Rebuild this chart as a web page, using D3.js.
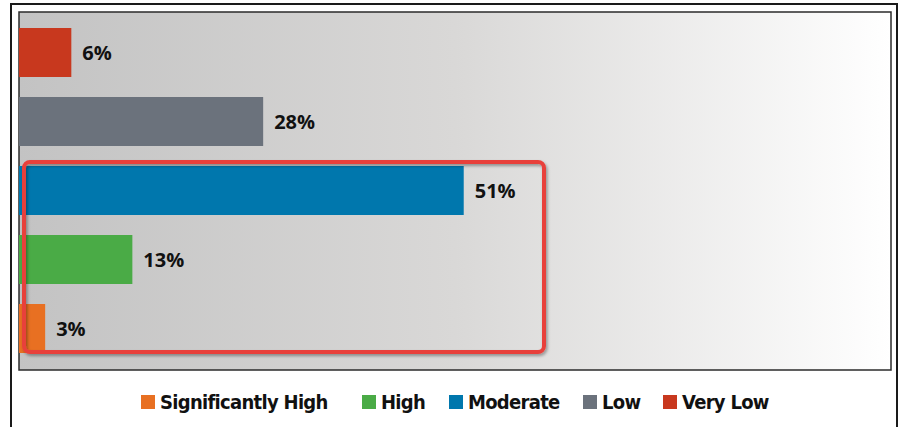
<!DOCTYPE html>
<html>
<head>
<meta charset="utf-8">
<script src="https://cdn.jsdelivr.net/npm/d3@7"></script>
<style>
  body { margin: 0; background: #fff; }
  svg { display: block; }
</style>
</head>
<body>
<div id="chart"></div>
<script>
// data, top to bottom as drawn
const categories = ["Very Low", "Low", "Moderate", "High", "Significantly High"];
const values = [6, 28, 51, 13, 3];
const colors = ["#c8381e", "#6b727c", "#0077ad", "#4aab46", "#e87022"];
// legend order
const legendOrder = ["Significantly High", "High", "Moderate", "Low", "Very Low"];
// highlighted group
const highlighted = ["Moderate", "High", "Significantly High"];

const width = 901, height = 427;
const plot = { left: 19, top: 12, right: 891, bottom: 370 };

const svg = d3.select("#chart").append("svg")
  .attr("width", width)
  .attr("height", height);

const defs = svg.append("defs");
const grad = defs.append("linearGradient")
  .attr("id", "bg")
  .attr("x1", "0%").attr("x2", "100%").attr("y1", "0%").attr("y2", "0%");
grad.append("stop").attr("offset", "0%").attr("stop-color", "#c3c3c3");
grad.append("stop").attr("offset", "50%").attr("stop-color", "#d9d8d7");
grad.append("stop").attr("offset", "100%").attr("stop-color", "#ffffff");

const shadow = defs.append("filter").attr("id", "shadow")
  .attr("x", "-5%").attr("y", "-5%").attr("width", "110%").attr("height", "115%");
shadow.append("feDropShadow")
  .attr("dx", 1.5).attr("dy", 2).attr("stdDeviation", 1.5)
  .attr("flood-color", "#000").attr("flood-opacity", 0.35);

const colorScale = d3.scaleOrdinal().domain(categories).range(colors);

// outer frame (open at the bottom)
svg.append("path")
  .attr("d", `M11,${height + 5} L11,4 L897,4 L897,${height + 5}`)
  .attr("fill", "none")
  .attr("stroke", "#1a1a1a")
  .attr("stroke-width", 2);

// plot area
svg.append("rect")
  .attr("x", plot.left)
  .attr("y", plot.top)
  .attr("width", plot.right - plot.left)
  .attr("height", plot.bottom - plot.top)
  .attr("fill", "url(#bg)")
  .attr("stroke", "#2b2b2b")
  .attr("stroke-width", 1.5);

const x = d3.scaleLinear().domain([0, 100]).range([plot.left, plot.right]);
const y = d3.scaleBand()
  .domain(categories)
  .range([18, 363])
  .paddingInner(0.29)
  .paddingOuter(0.145);

const data = categories.map((c, i) => ({ category: c, value: values[i] }));

// bars
svg.append("g")
  .selectAll("rect")
  .data(data)
  .enter()
  .append("rect")
  .attr("x", x(0))
  .attr("y", d => y(d.category))
  .attr("width", d => x(d.value) - x(0))
  .attr("height", y.bandwidth())
  .attr("fill", d => colorScale(d.category));

// value labels
svg.append("g")
  .selectAll("text")
  .data(data)
  .enter()
  .append("text")
  .attr("x", d => x(d.value) + 11)
  .attr("y", d => y(d.category) + y.bandwidth() / 2)
  .attr("dy", "0.36em")
  .attr("font-family", "'Open Sans', sans-serif")
  .attr("font-weight", 700)
  .attr("font-size", "20px")
  .attr("fill", "#111")
  .text(d => d.value + "%");

// highlight box around the lower group
const hiTop = y(highlighted[0]) - 4;
const hiBottom = y(highlighted[highlighted.length - 1]) + y.bandwidth() - 1;
svg.append("rect")
  .attr("x", 24)
  .attr("y", hiTop)
  .attr("width", 520)
  .attr("height", hiBottom - hiTop)
  .attr("rx", 6)
  .attr("fill", "none")
  .attr("stroke", "#e8403a")
  .attr("stroke-width", 4)
  .attr("filter", "url(#shadow)");

// legend
const legend = svg.append("g").attr("class", "legend");
const legendY = 402;
const swatch = 14;
const legendX = [141, 362, 449, 583, 663];
legendOrder.forEach((name, i) => {
  legend.append("rect")
    .attr("x", legendX[i])
    .attr("y", legendY - swatch / 2)
    .attr("width", swatch)
    .attr("height", swatch)
    .attr("fill", colorScale(name));
  legend.append("text")
    .attr("x", legendX[i] + swatch + 5)
    .attr("y", legendY)
    .attr("dy", "0.36em")
    .attr("font-family", "'DejaVu Sans Condensed', 'DejaVu Sans', sans-serif")
    .attr("font-weight", 700)
    .attr("font-size", "20px")
    .attr("letter-spacing", "-0.7px")
    .attr("fill", "#111")
    .text(name);
});
</script>
</body>
</html>
